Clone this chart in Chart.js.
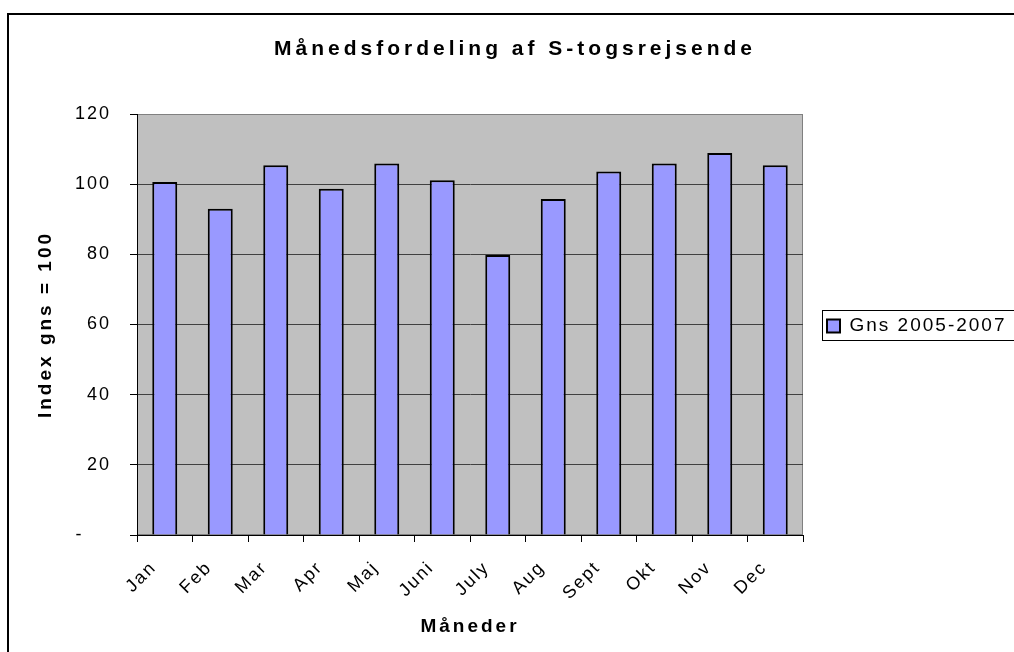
<!DOCTYPE html>
<html lang="da">
<head>
<meta charset="UTF-8">
<title>Månedsfordeling af S-togsrejsende</title>
<script src="https://cdn.jsdelivr.net/npm/chart.js"></script>
<style>
  body { margin: 0; background: #fff; }
  canvas { display: block; }
</style>
</head>
<body>
<canvas id="chart" width="1014" height="652"></canvas>
<script>
// Index, gennemsnit 2005-2007 = 100
const months = ['Jan', 'Feb', 'Mar', 'Apr', 'Maj', 'Juni', 'July', 'Aug', 'Sept', 'Okt', 'Nov', 'Dec']
const gns = [100.6, 93.0, 105.4, 98.7, 105.9, 101.1, 79.8, 95.8, 103.6, 105.9, 108.9, 105.4]
const yTicks = [0, 20, 40, 60, 80, 100, 120]
const yTickLabels = ['-\u2007\u2007\u200A', '20', '40', '60', '80', '100', '120']

const FONT = "'Liberation Sans', Arial, sans-serif"

// Excel-style wide letter spacing on every canvas text call
const spacing = {
  id: 'spacing',
  beforeInit(chart) {
    const ctx = chart.ctx
    for (const fn of ['fillText', 'measureText']) {
      const orig = ctx[fn]
      ctx[fn] = function (...args) {
        const bold = /bold/.test(this.font)
        this.letterSpacing = bold ? (this.font.includes('21px') ? '4px' : '3px') : '2px'
        return orig.apply(this, args)
      }
    }
  },
  beforeLayout(chart) {
    // keep the legend column at a fixed width so the plot ends where it should
    const legend = chart.legend
    if (legend && !legend._fixed) {
      const fit = legend.fit
      legend.fit = function () { fit.call(this); this.width = 211 }
      legend._fixed = true
    }
  }
}

const plotArea = {
  id: 'plotArea',
  beforeDraw(chart) {
    const { ctx, chartArea: a } = chart
    ctx.save()
    ctx.fillStyle = '#fff'
    ctx.fillRect(0, 0, chart.width, chart.height)
    ctx.fillStyle = '#c0c0c0'
    ctx.fillRect(a.left, a.top, a.width, a.height)
    ctx.strokeStyle = '#808080'
    ctx.lineWidth = 1
    ctx.strokeRect(a.left + 0.5, a.top + 0.5, a.width - 1, a.height - 1)
    ctx.restore()
  },
  afterDraw(chart) {
    const ctx = chart.ctx
    ctx.save()
    // outer frame (only left and top edges are visible)
    ctx.strokeStyle = '#000'
    ctx.lineWidth = 2
    ctx.beginPath()
    ctx.moveTo(8, chart.height)
    ctx.lineTo(8, 14)
    ctx.lineTo(chart.width, 14)
    ctx.stroke()
    // legend frame
    const hb = chart.legend.legendHitBoxes[0]
    if (hb) {
      const cy = hb.top + hb.height / 2
      ctx.lineWidth = 1
      ctx.strokeRect(Math.round(hb.left) - 4.5, Math.round(cy) - 15.5, 300, 30)
    }
    ctx.restore()
  }
}

new Chart(document.getElementById('chart'), {
  type: 'bar',
  data: {
    labels: months,
    datasets: [{
      label: 'Gns 2005-2007',
      data: gns,
      backgroundColor: '#9999ff',
      borderColor: '#000',
      borderWidth: 2,
      barPercentage: 0.45,
      categoryPercentage: 1
    }]
  },
  options: {
    responsive: false,
    animation: false,
    layout: { padding: { left: 16, top: 0, right: 0, bottom: 0 } },
    plugins: {
      title: {
        display: true,
        text: 'Månedsfordeling af S-togsrejsende',
        color: '#000',
        font: { family: FONT, size: 21, weight: 'bold' },
        padding: { top: 37, bottom: 51.8 }
      },
      legend: {
        position: 'right',
        labels: {
          color: '#000',
          boxWidth: 13,
          boxHeight: 13,
          padding: 24,
          font: { family: FONT, size: 19 }
        }
      },
      tooltip: { enabled: false }
    },
    scales: {
      x: {
        afterFit(s) { s.height = 117 },
        grid: { offset: true, drawOnChartArea: false, tickLength: 7, tickColor: '#000' },
        border: { color: '#000', width: 1 },
        ticks: {
          color: '#000',
          font: { family: FONT, size: 18 },
          minRotation: 45,
          maxRotation: 45,
          autoSkip: false,
          labelOffset: -11,
          padding: 15
        },
        title: {
          display: true,
          text: 'Måneder',
          color: '#000',
          font: { family: FONT, size: 19, weight: 'bold' },
          padding: { top: 0, bottom: 14 }
        }
      },
      y: {
        min: 0,
        max: 120,
        afterFit(s) { s.width = 121 },
        afterBuildTicks(s) { s.ticks = yTicks.map(v => ({ value: v })) },
        grid: {
          color: c => (c.tick && c.tick.value === 120 ? '#808080' : '#404040'),
          tickLength: 7,
          tickColor: '#000'
        },
        border: { color: '#000', width: 1 },
        ticks: {
          color: '#000',
          font: { family: FONT, size: 18 },
          padding: 19,
          callback: v => yTickLabels[yTicks.indexOf(v)]
        },
        title: {
          display: true,
          text: 'Index gns = 100',
          color: '#000',
          font: { family: FONT, size: 19, weight: 'bold' },
          padding: { top: 18, bottom: 0 }
        }
      }
    }
  },
  plugins: [spacing, plotArea]
})
</script>
</body>
</html>
